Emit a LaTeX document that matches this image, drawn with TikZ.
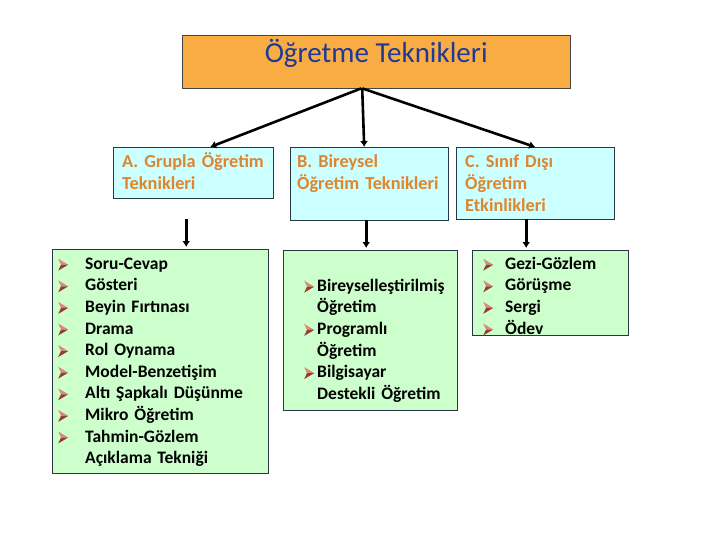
\documentclass[tikz,border=0pt]{standalone}
\usepackage{fontspec}
\setmainfont{Carlito}
\usetikzlibrary{arrows.meta}
\definecolor{titleorange}{RGB}{250,172,68}
\definecolor{titleline}{RGB}{70,70,70}
\definecolor{titleblue}{RGB}{31,58,150}
\definecolor{headcyan}{RGB}{204,255,255}
\definecolor{headtext}{RGB}{222,134,46}
\definecolor{listgreen}{RGB}{204,255,204}
\definecolor{boxline}{RGB}{40,55,70}
\definecolor{bltlight}{RGB}{214,140,120}
\definecolor{bltdark}{RGB}{150,62,44}
\newlength\bltpre
\newlength\bltgap
\newcommand{\blt}{\tikz[baseline=-4.5pt,x=1pt,y=1pt]{
    \fill[bltlight] (0,6)--(10,0)--(2.8,0)--cycle;
    \fill[bltdark] (0,-6)--(10,0)--(2.8,0)--cycle;
}}
\newcommand{\itm}[1]{\hspace*{\bltpre}\makebox[\bltgap][l]{\blt}#1}
\newcommand{\cnt}[1]{\hspace*{\bltpre}\hspace*{\bltgap}#1}
\frenchspacing
\tikzset{
    headbox/.style={draw=boxline,fill=headcyan,anchor=north west,align=left,inner ysep=0pt,
        font=\fontsize{18.3}{22}\selectfont\bfseries,text=headtext,text height=20pt},
    listbox/.style={draw=boxline,fill=listgreen,anchor=north west,align=left,inner ysep=0pt,
        inner xsep=6pt,font=\fontsize{17.5}{21.6}\selectfont\bfseries},
    arr/.style={line width=2.6pt,-{Latex[length=6pt,width=8pt]}},
}
\begin{document}
\begin{tikzpicture}[x=1pt,y=-1pt]
            \useasboundingbox (0,0) rectangle (720,540);
            \node[draw=titleline,fill=titleorange,text=titleblue,font=\fontsize{29}{34}\selectfont,
                minimum width=388pt,inner ysep=0pt,text height=27pt,text depth=26pt,anchor=north west]
                (top) at (182,35) {Öğretme Teknikleri};
            \node[headbox,text width=142pt,inner xsep=9pt,text depth=31pt] (ga) at (113,147)
                {A. Grupla Öğretim\\Teknikleri};
            \node[headbox,text width=144pt,inner xsep=7pt,text depth=53pt] (gb) at (290,147)
                {B. Bireysel\\Öğretim Teknikleri};
            \node[headbox,text width=140pt,inner xsep=9pt,text depth=52pt] (gc) at (456,147)
                {C. Sınıf Dışı\\Öğretim\\Etkinlikleri};
            \draw[arr] ([xshift=-15pt]top.south) -- ([xshift=17pt]ga.north);
            \draw[arr] ([xshift=-14pt]top.south) -- ([xshift=-5pt]gb.north);
            \draw[arr] ([xshift=-14pt]top.south) -- (gc.north);
            \node[listbox,text width=204pt,text height=20pt,text depth=204pt,
                execute at begin node={\setlength\bltpre{0pt}\setlength\bltgap{27pt}}] (la) at (52,249)
                {\itm{Soru-Cevap}\\\itm{Gösteri}\\\itm{Beyin Fırtınası}\\\itm{Drama}\\\itm{Rol Oynama}\\
                 \itm{Model-Benzetişim}\\\itm{Altı Şapkalı Düşünme}\\\itm{Mikro Öğretim}\\
                 \itm{Tahmin-Gözlem}\\\cnt{Açıklama Tekniği}};
            \node[listbox,text width=162pt,text height=41pt,text depth=119pt,
                execute at begin node={\setlength\bltpre{15pt}\setlength\bltgap{13pt}}] (lb) at (283,250)
                {\itm{Bireyselleştirilmiş}\\\cnt{Öğretim}\\\itm{Programlı}\\\cnt{Öğretim}\\
                 \itm{Bilgisayar}\\\cnt{Destekli Öğretim}};
            \node[listbox,text width=144pt,text height=19pt,text depth=66pt,
                execute at begin node={\setlength\bltpre{5pt}\setlength\bltgap{22pt}}] (lc) at (472,250)
                {\itm{Gezi-Gözlem}\\\itm{Görüşme}\\\itm{Sergi}\\\itm{Ödev}};
            \draw[arr,shorten <=21pt,shorten >=2pt] ([xshift=-7pt]ga.south) -- ([xshift=-7pt]ga.south |- la.north);
            \draw[arr,shorten >=2pt] ([xshift=-3pt]gb.south) -- ([xshift=-3pt]gb.south |- lb.north);
            \draw[arr,shorten >=2pt] ([xshift=-9pt]gc.south) -- ([xshift=-9pt]gc.south |- lc.north);
        \end{tikzpicture}
\end{document}
